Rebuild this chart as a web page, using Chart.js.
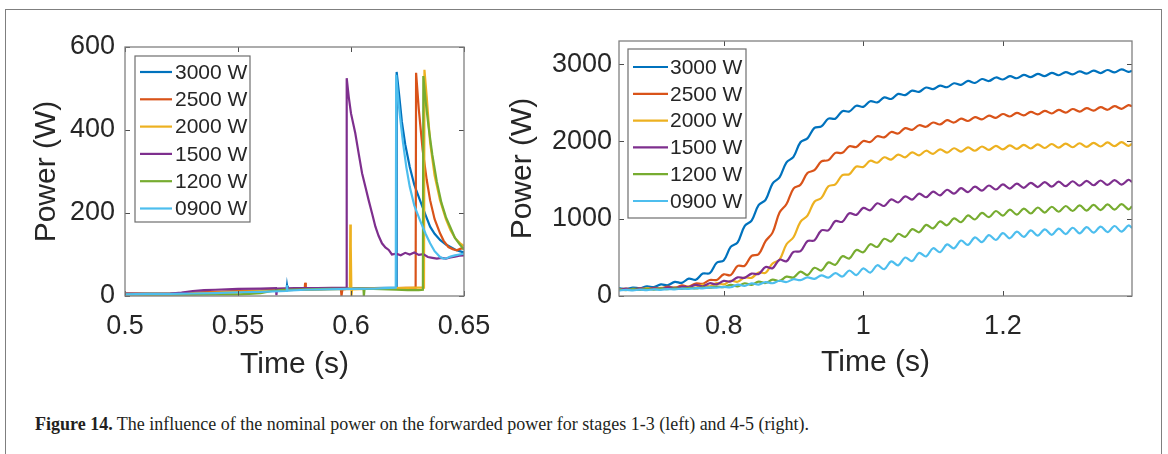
<!DOCTYPE html>
<html>
<head>
<meta charset="utf-8">
<script src="https://cdn.jsdelivr.net/npm/chart.js@4.4.0/dist/chart.umd.min.js"></script>
<style>
  html, body { margin: 0; padding: 0; background: #fff; }
  #page { position: relative; width: 1168px; height: 454px; overflow: hidden; }
  #frame { position: absolute; left: 5px; top: 9px; width: 1157px; height: 480px; box-sizing: border-box;
           border: 1px solid #7f7f7f; border-bottom: none; }
  #stage13 { position: absolute; left: 0; top: 0; }
  #stage45 { position: absolute; left: 500px; top: 0; }
  #caption { position: absolute; left: 35px; top: 414px; font-family: 'Liberation Serif', serif; font-size: 18px;
             color: #231f20; white-space: nowrap; }
</style>
</head>
<body>
<div id="page">
  <div id="frame"></div>
  <canvas id="stage13" width="500" height="400"></canvas>
  <canvas id="stage45" width="668" height="400"></canvas>
  <div id="caption"><b>Figure 14.</b> The influence of the nominal power on the forwarded power for stages 1-3 (left) and 4-5 (right).</div>
</div>
<script>
const labels = ['3000 W', '2500 W', '2000 W', '1500 W', '1200 W', '0900 W'];
const colors = ['#0072bd', '#d95319', '#edb120', '#7e2f8e', '#77ac30', '#4dbeee'];

// stages 1-3: time (s) / forwarded power (W)
const t3000a = [0.5, 0.51, 0.52, 0.53, 0.54, 0.55, 0.56, 0.565, 0.5715, 0.5717, 0.572, 0.58, 0.59, 0.6, 0.61, 0.62, 0.6202, 0.6212, 0.6225, 0.624, 0.626, 0.628, 0.6305, 0.633, 0.635, 0.637, 0.6394, 0.642, 0.644, 0.646, 0.648, 0.65];
const p3000a = [5, 6, 5, 7, 9, 11, 13, 15, 14, 25, 14, 16, 17, 18, 19, 20, 540, 490, 420, 365, 311, 268, 231, 195, 167, 150, 135, 124, 118, 112, 108, 105];
const t2500a = [0.5, 0.51, 0.52, 0.53, 0.54, 0.55, 0.56, 0.57, 0.5795, 0.5797, 0.58, 0.585, 0.59, 0.5955, 0.5958, 0.5962, 0.6, 0.61, 0.62, 0.6286, 0.6288, 0.63, 0.6317, 0.6335, 0.635, 0.637, 0.6394, 0.641, 0.6431, 0.645, 0.6468, 0.6485, 0.65];
const p2500a = [6, 5, 6, 8, 10, 12, 13, 15, 15, 32, 15, 16, 17, 18, 0, 16, 18, 19, 19, 20, 538, 450, 352, 280, 231, 185, 151, 133, 118, 113, 110, 114, 115];
const t2000a = [0.5, 0.51, 0.52, 0.53, 0.54, 0.55, 0.56, 0.57, 0.58, 0.59, 0.5995, 0.5997, 0.5999, 0.6002, 0.6005, 0.61, 0.62, 0.63, 0.6323, 0.6325, 0.6335, 0.635, 0.637, 0.6394, 0.642, 0.644, 0.646, 0.6483, 0.65];
const p2000a = [5, 6, 5, 6, 8, 10, 12, 14, 15, 16, 17, 172, 120, 0, 16, 18, 19, 20, 20, 545, 480, 370, 290, 231, 185, 159, 140, 127, 120];
const t1500a = [0.5, 0.51, 0.52, 0.525, 0.53, 0.535, 0.54, 0.55, 0.56, 0.5668, 0.567, 0.5673, 0.575, 0.585, 0.5978, 0.5981, 0.599, 0.6, 0.6019, 0.6035, 0.6049, 0.6065, 0.6078, 0.6095, 0.6108, 0.6122, 0.6137, 0.6152, 0.6167, 0.6181, 0.62, 0.622, 0.624, 0.626, 0.628, 0.63, 0.632, 0.634, 0.636, 0.638, 0.64, 0.642, 0.644, 0.646, 0.648, 0.65];
const p1500a = [6, 5, 6, 8, 12, 14, 15, 17, 18, 19, 2, 18, 19, 19, 20, 525, 480, 440, 392, 340, 296, 260, 231, 195, 167, 145, 127, 117, 111, 100, 102, 98, 104, 100, 105, 99, 101, 94, 92, 90, 92, 90, 93, 95, 97, 98];
const t1200a = [0.5, 0.51, 0.52, 0.53, 0.54, 0.55, 0.555, 0.56, 0.565, 0.57, 0.58, 0.59, 0.6, 0.6055, 0.6057, 0.606, 0.61, 0.62, 0.625, 0.63, 0.6318, 0.632, 0.633, 0.6345, 0.636, 0.638, 0.64, 0.642, 0.644, 0.646, 0.648, 0.65];
const p1200a = [4, 3, 4, 3, 4, 4, 5, 7, 12, 15, 16, 17, 17, 18, 0, 17, 17, 15, 14, 14, 15, 530, 470, 400, 340, 275, 225, 190, 165, 140, 125, 112];
const t0900a = [0.5, 0.51, 0.52, 0.53, 0.54, 0.55, 0.56, 0.5713, 0.5716, 0.5719, 0.58, 0.59, 0.6, 0.61, 0.6198, 0.62, 0.6208, 0.6217, 0.623, 0.6245, 0.626, 0.628, 0.6305, 0.633, 0.635, 0.637, 0.6394, 0.641, 0.6424, 0.644, 0.646, 0.648, 0.65];
const p0900a = [4, 5, 5, 6, 7, 9, 10, 12, 26, 13, 15, 16, 17, 18, 20, 533, 480, 432, 370, 310, 263, 218, 183, 150, 127, 108, 94, 90, 91, 95, 98, 100, 102];

// stages 4-5: common time base (s)
const t45 = [0.65, 0.66, 0.67, 0.68, 0.69, 0.70, 0.71, 0.72, 0.73, 0.74,
             0.75, 0.76, 0.77, 0.78, 0.79, 0.80, 0.81, 0.82, 0.83, 0.84,
             0.85, 0.86, 0.87, 0.88, 0.89, 0.90, 0.91, 0.92, 0.93, 0.94,
             0.95, 0.96, 0.97, 0.98, 0.99, 1.00, 1.01, 1.02, 1.03, 1.04,
             1.05, 1.06, 1.07, 1.08, 1.09, 1.10, 1.11, 1.12, 1.13, 1.14,
             1.15, 1.16, 1.17, 1.18, 1.19, 1.20, 1.21, 1.22, 1.23, 1.24,
             1.25, 1.26, 1.27, 1.28, 1.29, 1.30, 1.31, 1.32, 1.33, 1.34,
             1.35, 1.36, 1.37, 1.38, 1.385];
const p3000b = [101, 92, 110, 100, 125, 115, 150, 140, 183, 170,
                225, 210, 290, 295, 430, 460, 635, 695, 905, 975,
                1175, 1245, 1455, 1535, 1730, 1800, 1990, 2040, 2175, 2195,
                2295, 2295, 2392, 2388, 2462, 2448, 2520, 2505, 2570, 2550,
                2615, 2600, 2658, 2642, 2698, 2677, 2723, 2702, 2753, 2732,
                2783, 2757, 2808, 2782, 2828, 2802, 2846, 2818, 2861, 2832,
                2875, 2845, 2888, 2857, 2898, 2868, 2908, 2877, 2917, 2885,
                2925, 2893, 2933, 2900, 2915];
const p2500b = [83, 95, 87, 100, 93, 106, 100, 122, 105, 137,
                123, 162, 158, 207, 208, 280, 270, 390, 390, 520,
                540, 710, 820, 1080, 1190, 1390, 1440, 1592, 1628, 1742,
                1758, 1852, 1853, 1937, 1928, 2007, 1993, 2067, 2053, 2122,
                2103, 2172, 2150, 2210, 2190, 2245, 2220, 2275, 2245, 2295,
                2265, 2315, 2285, 2335, 2305, 2355, 2323, 2370, 2337, 2384,
                2350, 2396, 2362, 2408, 2374, 2420, 2386, 2432, 2398, 2444,
                2410, 2456, 2422, 2470, 2455];
const p2000b = [90, 82, 94, 86, 98, 90, 104, 98, 112, 106,
                120, 108, 146, 125, 167, 150, 197, 185, 240, 235,
                305, 300, 420, 470, 670, 760, 960, 1040, 1220, 1270,
                1420, 1445, 1565, 1575, 1675, 1670, 1750, 1725, 1795, 1765,
                1830, 1795, 1858, 1820, 1880, 1840, 1898, 1855, 1912, 1868,
                1924, 1880, 1935, 1890, 1944, 1897, 1950, 1903, 1956, 1909,
                1962, 1915, 1967, 1920, 1972, 1925, 1977, 1930, 1982, 1935,
                1987, 1939, 1991, 1943, 1970];
const p1500b = [80, 92, 84, 96, 88, 100, 95, 110, 105, 120,
                115, 145, 125, 165, 150, 195, 188, 241, 235, 290,
                285, 375, 360, 470, 450, 570, 580, 710, 720, 850,
                850, 970, 960, 1070, 1050, 1140, 1110, 1200, 1165, 1250,
                1210, 1290, 1248, 1325, 1278, 1350, 1303, 1375, 1325, 1395,
                1345, 1415, 1363, 1430, 1378, 1445, 1390, 1455, 1400, 1465,
                1410, 1473, 1416, 1479, 1422, 1485, 1428, 1490, 1433, 1495,
                1438, 1500, 1442, 1504, 1475];
const p1200b = [85, 76, 88, 79, 91, 83, 95, 88, 100, 93,
                105, 99, 113, 107, 121, 115, 145, 125, 165, 145,
                185, 168, 211, 195, 250, 240, 315, 270, 365, 330,
                435, 405, 515, 485, 595, 565, 670, 635, 740, 705,
                805, 765, 865, 825, 920, 875, 965, 915, 1005, 955,
                1043, 990, 1075, 1020, 1100, 1040, 1117, 1054, 1131, 1068,
                1145, 1080, 1155, 1090, 1165, 1100, 1173, 1106, 1179, 1112,
                1185, 1117, 1189, 1122, 1160];
const p0900b = [71, 80, 73, 82, 76, 86, 80, 90, 85, 96,
                91, 103, 99, 111, 107, 119, 113, 147, 131, 164,
                148, 180, 165, 197, 181, 217, 205, 241, 222, 268,
                238, 295, 252, 330, 270, 358, 302, 398, 347, 448,
                397, 498, 452, 558, 512, 618, 567, 668, 617, 718,
                662, 758, 697, 788, 725, 813, 747, 832, 765, 850,
                782, 863, 792, 873, 802, 883, 811, 891, 819, 899,
                827, 906, 833, 913, 880];

const xTicks13 = [0.5, 0.55, 0.6, 0.65];
const yTicks13 = [0, 200, 400, 600];
const xTicks45 = [0.8, 1, 1.2];
const yTicks45 = [0, 1000, 2000, 3000];

const ink = '#262626';
Chart.defaults.font.family = '"Liberation Sans", Arial, sans-serif';

function lines(pairs, tension) {
  return pairs.map(([xs, ys], i) => ({
    label: labels[i],
    data: xs.map((x, k) => ({ x: x, y: ys[k] })),
    borderColor: colors[i],
    borderWidth: 2.2,
    pointRadius: 0,
    tension: tension,
    order: pairs.length - i
  }));
}

// box, inward ticks on all four sides, and the inset legend
const boxPlugin = {
  id: 'box',
  afterDatasetsDraw(chart, args, opts) {
    const { ctx, chartArea: a, scales } = chart;
    const len = 5;
    ctx.save();
    ctx.strokeStyle = '#4d4d4d';
    ctx.lineWidth = 1;
    ctx.beginPath();
    scales.x.ticks.forEach(t => {
      const px = Math.round(scales.x.getPixelForValue(t.value)) + 0.5;
      ctx.moveTo(px, a.bottom); ctx.lineTo(px, a.bottom - len);
      ctx.moveTo(px, a.top); ctx.lineTo(px, a.top + len);
    });
    scales.y.ticks.forEach(t => {
      const py = Math.round(scales.y.getPixelForValue(t.value)) + 0.5;
      ctx.moveTo(a.left, py); ctx.lineTo(a.left + len, py);
      ctx.moveTo(a.right, py); ctx.lineTo(a.right - len, py);
    });
    ctx.stroke();
    ctx.strokeStyle = '#808080';
    ctx.lineWidth = 1.3;
    ctx.strokeRect(a.left, a.top, a.right - a.left, a.bottom - a.top);

    const x0 = a.left + opts.dx, y0 = a.top + opts.dy;
    ctx.fillStyle = '#fff';
    ctx.fillRect(x0, y0, opts.w, opts.h);
    ctx.strokeStyle = '#6e6e6e';
    ctx.lineWidth = 1.2;
    ctx.strokeRect(x0, y0, opts.w, opts.h);
    ctx.font = '21px "Liberation Sans", Arial, sans-serif';
    ctx.textBaseline = 'middle';
    chart.data.datasets.forEach((ds, i) => {
      const y = y0 + opts.first + i * opts.row;
      ctx.strokeStyle = ds.borderColor;
      ctx.lineWidth = 2.2;
      ctx.beginPath();
      ctx.moveTo(x0 + opts.lineX, y);
      ctx.lineTo(x0 + opts.lineX + opts.lineLen, y);
      ctx.stroke();
      ctx.fillStyle = ink;
      ctx.fillText(ds.label, x0 + opts.textX, y + 1);
    });
    ctx.restore();
  }
};

function axes(cfg) {
  return {
    x: {
      type: 'linear', min: cfg.xMin, max: cfg.xMax,
      grid: { display: false, tickLength: 6 }, border: { display: false },
      afterBuildTicks: s => { s.ticks = cfg.xTicks.map(v => ({ value: v })); },
      afterFit: s => { s.height = cfg.xHeight; },
      ticks: { callback: v => String(v), font: { size: 27 }, color: ink, padding: 8, maxRotation: 0, autoSkip: false },
      title: { display: true, text: 'Time (s)', font: { size: 30 }, color: ink, padding: { top: 0, bottom: cfg.xTitlePad } }
    },
    y: {
      type: 'linear', min: cfg.yMin, max: cfg.yMax,
      grid: { display: false, tickLength: 6 }, border: { display: false },
      afterBuildTicks: s => { s.ticks = cfg.yTicks.map(v => ({ value: v })); },
      afterFit: s => { s.width = cfg.yWidth; },
      ticks: { callback: v => String(v), font: { size: 27 }, color: ink, padding: cfg.yTickPad, autoSkip: false },
      title: { display: true, text: 'Power (W)', font: { size: 30 }, color: ink, padding: { top: cfg.yTitlePad, bottom: 0 } }
    }
  };
}

new Chart(document.getElementById('stage13'), {
  type: 'line',
  data: {
    datasets: lines([[t3000a, p3000a], [t2500a, p2500a], [t2000a, p2000a],
                     [t1500a, p1500a], [t1200a, p1200a], [t0900a, p0900a]], 0)
  },
  options: {
    responsive: false,
    animation: false,
    devicePixelRatio: 1,
    layout: { padding: { top: 47, right: 36, left: 0, bottom: 0 } },
    plugins: {
      legend: { display: false },
      tooltip: { enabled: false },
      box: { dx: 10, dy: 9, w: 115, h: 166, first: 16, row: 27.3, lineX: 5, lineLen: 32, textX: 40 }
    },
    scales: axes({ xMin: 0.5, xMax: 0.65, xTicks: xTicks13, yMin: 0, yMax: 600, yTicks: yTicks13,
                   xHeight: 104, yWidth: 125, yTickPad: 4, yTitlePad: 29, xTitlePad: 17 })
  },
  plugins: [boxPlugin]
});

new Chart(document.getElementById('stage45'), {
  type: 'line',
  data: {
    datasets: lines([[t45, p3000b], [t45, p2500b], [t45, p2000b],
                     [t45, p1500b], [t45, p1200b], [t45, p0900b]], 0.35)
  },
  options: {
    responsive: false,
    animation: false,
    devicePixelRatio: 1,
    layout: { padding: { top: 41, right: 36, left: 0, bottom: 0 } },
    plugins: {
      legend: { display: false },
      tooltip: { enabled: false },
      box: { dx: 9, dy: 8, w: 118, h: 169, first: 18, row: 26.8, lineX: 5, lineLen: 35, textX: 42 }
    },
    scales: axes({ xMin: 0.65, xMax: 1.385, xTicks: xTicks45, yMin: 0, yMax: 3300, yTicks: yTicks45,
                   xHeight: 104, yWidth: 119, yTickPad: 1, yTitlePad: 5, xTitlePad: 19 })
  },
  plugins: [boxPlugin]
});
</script>
</body>
</html>
